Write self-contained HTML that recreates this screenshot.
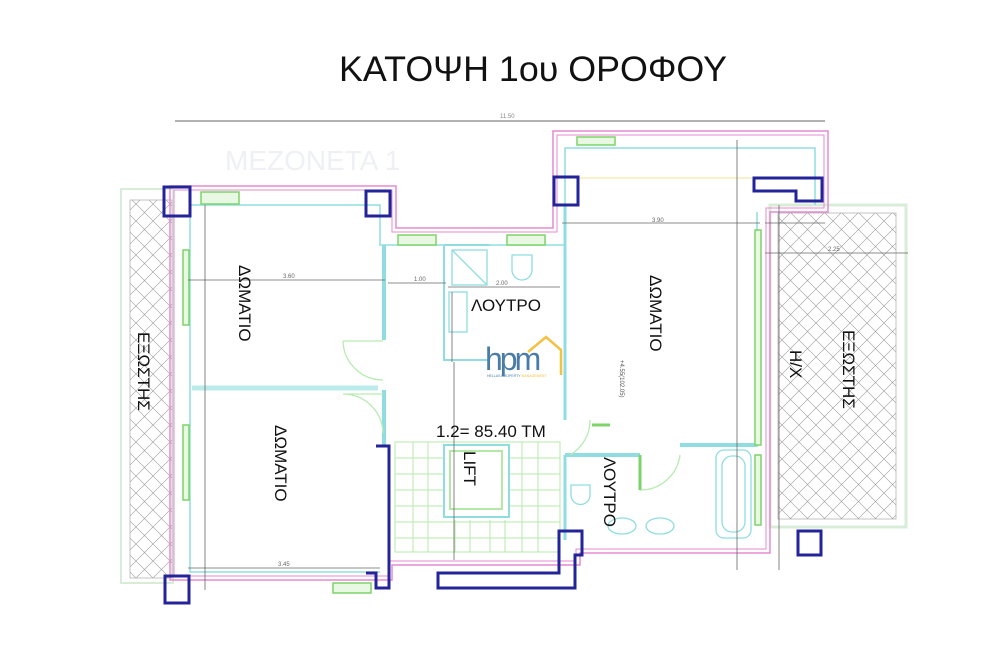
<!DOCTYPE html>
<html><head><meta charset="utf-8"><style>
html,body{margin:0;padding:0;background:#fff;}
svg{display:block;font-family:"Liberation Sans",sans-serif;}
</style></head><body>
<svg width="1000" height="660" viewBox="0 0 1000 660" xmlns="http://www.w3.org/2000/svg">
<defs>
<pattern id="h" width="17" height="17" patternUnits="userSpaceOnUse">
<path d="M0,0 L17,17 M17,0 L0,17" stroke="#9a9a9a" stroke-width="0.6"/>
</pattern>
</defs>
<rect width="1000" height="660" fill="#fff"/>
<text x="533" y="81" font-size="35" text-anchor="middle" textLength="388" lengthAdjust="spacingAndGlyphs" fill="#111">ΚΑΤΟΨΗ 1ου ΟΡΟΦΟΥ</text>
<line x1="175" y1="121" x2="825" y2="121" stroke="#666" stroke-width="1"/>
<text x="500" y="118" font-size="6" fill="#888">11.50</text>
<text x="225" y="170" font-size="28" fill="#eef0f4">ΜΕΖΟΝΕΤΑ 1</text>

<rect x="121" y="189" width="52" height="394" fill="none" stroke="#d8ecd8" stroke-width="2"/>
<rect x="130" y="200" width="42" height="378" fill="url(#h)" stroke="#aaa" stroke-width="0.7"/>
<rect x="770" y="205" width="136" height="322" fill="none" stroke="#d8ecd8" stroke-width="3"/>
<rect x="778" y="213" width="118" height="306" fill="url(#h)" stroke="#aaa" stroke-width="0.7"/>

<path d="M170,186 H396 V228 H553 V131 H828 V212 H770 V553 H580 V565 H392 V580 H170 Z" fill="none" stroke="#e58ad0" stroke-width="1.5"/>
<path d="M174,190 H392 V232 H557 V135 H824 V208 H766 V549 H576 V561 H388 V576 H174 Z" fill="none" stroke="#e58ad0" stroke-width="1"/>
<path d="M190,205 H380 V245 H565 V148 H815 V205 M757,212 V447 M190,205 V572 H380" fill="none" stroke="#8fdde0" stroke-width="1.5"/>
<path d="M192,388 H378" stroke="#8fdde0" stroke-width="5" fill="none" opacity="0.6"/>
<path d="M384,245 V340 M384,390 V447" stroke="#8fdde0" stroke-width="4" fill="none"/>
<path d="M565,205 V420 M565,455 V540" stroke="#8fdde0" stroke-width="3" fill="none"/>
<path d="M565,455 H640 M680,445 H757" stroke="#8fdde0" stroke-width="4" fill="none"/>
<path d="M444,245 V360 H490 M444,245 H490" stroke="#8fdde0" stroke-width="2" fill="none"/>
<g fill="#e9f8e2" stroke="#7ed36a" stroke-width="1.5">
<rect x="201" y="192" width="38" height="12"/>
<rect x="398" y="235" width="38" height="10"/>
<rect x="507" y="235" width="38" height="10"/>
<rect x="577" y="137" width="38" height="8"/>
<rect x="183" y="250" width="6" height="75"/>
<rect x="183" y="425" width="6" height="75"/>
<rect x="755" y="230" width="6" height="215"/>
<rect x="755" y="455" width="6" height="70"/>
<rect x="333" y="583" width="38" height="10"/>
</g>
<line x1="578" y1="178" x2="752" y2="178" stroke="#f0e690" stroke-width="1"/>
<g fill="none" stroke="#b7ecb0" stroke-width="1.3">
<path d="M343,341 H383 M343,341 A40,40 0 0 0 383,380"/>
<path d="M343,394 H383 M343,394 A40,40 0 0 1 383,433"/>
<path d="M590,420 A40,40 0 0 1 570,455"/>
<path d="M640,455 V490 A40,40 0 0 0 680,455"/>
</g>
<line x1="592" y1="425" x2="610" y2="425" stroke="#7ed36a" stroke-width="3"/>
<line x1="640" y1="455" x2="640" y2="490" stroke="#7ed36a" stroke-width="3"/>
<g stroke="#b4e8a8" stroke-width="1" fill="none">
<rect x="395" y="442" width="165" height="110"/>
<path d="M395,458 H560 M395,474 H560 M395,490 H560 M395,506 H560 M395,522 H560 M395,538 H560"/>
<path d="M413,442 V552 M428,442 V552 M522,442 V552 M538,442 V552 M455,520 V552 M470,520 V552 M490,520 V552 M505,520 V552"/>
</g>
<rect x="444" y="445" width="65" height="72" fill="#fff" stroke="#8fdde0" stroke-width="2"/>
<rect x="450" y="451" width="52" height="58" fill="#fff" stroke="#b4e8a8" stroke-width="2"/>
<g fill="none" stroke="#8fdde0" stroke-width="1.3">
<rect x="452" y="250" width="35" height="35"/>
<path d="M452,250 L487,285"/>
<path d="M512,255 V270 A10,10 0 0 0 532,270 V255 Z"/>
<rect x="449" y="292" width="18" height="40"/>
<path d="M571,485 H590 V495 A8,8 0 0 1 571,495 Z"/>
<ellipse cx="622" cy="526" rx="14" ry="8"/>
<ellipse cx="660" cy="526" rx="14" ry="8"/>
<rect x="716" y="450" width="35" height="88" rx="8"/>
<rect x="722" y="456" width="23" height="76" rx="10"/>
</g>
<g stroke="#666" stroke-width="0.8" fill="none">
<line x1="188" y1="280" x2="385" y2="280"/>
<line x1="388" y1="283" x2="446" y2="283"/>
<line x1="448" y1="287" x2="560" y2="287"/>
<line x1="205" y1="205" x2="205" y2="590"/>
<line x1="188" y1="568" x2="380" y2="568"/>
<line x1="452" y1="292" x2="452" y2="362"/>
<line x1="454" y1="362" x2="454" y2="560"/>
<line x1="562" y1="223" x2="760" y2="223"/>
<line x1="737" y1="140" x2="737" y2="570"/>
<line x1="765" y1="253" x2="908" y2="253"/>
<line x1="765" y1="223" x2="825" y2="223"/>
<line x1="779" y1="205" x2="779" y2="570"/>
</g>
<g font-size="6" fill="#666">
<text x="283" y="278">3.60</text><text x="414" y="281">1.00</text><text x="496" y="285">2.00</text>
<text x="278" y="566">3.45</text><text x="652" y="222">3.90</text><text x="828" y="251">2.25</text>
</g>
<g fill="none" stroke="#23239a" stroke-width="3">
<rect x="164" y="187" width="26" height="29"/>
<rect x="366" y="191" width="24" height="25"/>
<rect x="554" y="177" width="24" height="28"/>
<path d="M754,178 H822 V201 H796 V191 H754 Z"/>
<rect x="798" y="531" width="23" height="24"/>
<rect x="165" y="576" width="24" height="27"/>
<path d="M376,446 H389 V588 H376 V573 H366"/>
<path d="M559,531 H582 V555 H575 V588 H438 V573 H559 Z"/>
</g>
<g font-size="17" fill="#111">
<text transform="translate(239,265) rotate(90)">ΔΩΜΑΤΙΟ</text>
<text transform="translate(275,425) rotate(90)">ΔΩΜΑΤΙΟ</text>
<text transform="translate(650,275) rotate(90)">ΔΩΜΑΤΙΟ</text>
<text transform="translate(138,332) rotate(90)">ΕΞΩΣΤΗΣ</text>
<text transform="translate(843,330) rotate(90)">ΕΞΩΣΤΗΣ</text>
<text transform="translate(790,350) rotate(90)">Η/Χ</text>
<text transform="translate(604,457) rotate(90)">ΛΟΥΤΡΟ</text>
<text transform="translate(464,451) rotate(90)">LIFT</text>
<text x="471" y="311">ΛΟΥΤΡΟ</text>
<text x="436" y="437">1.2= 85.40 ΤΜ</text>
</g>
<text transform="translate(620,360) rotate(90)" font-size="6" fill="#555">+4.55(102.05)</text>
<g>
<path d="M528,352 L546,337 L561,350 V375" fill="none" stroke="#f4c242" stroke-width="2.5"/>
<text x="485" y="370" font-size="32" fill="#4a7ca8" letter-spacing="-3">hpm</text>
<text x="487" y="377" font-size="3.5" fill="#4a7ca8">HELLAS PROPERTY <tspan fill="#f4c242">MANAGEMENT</tspan></text>
</g>
</svg>
</body></html>
